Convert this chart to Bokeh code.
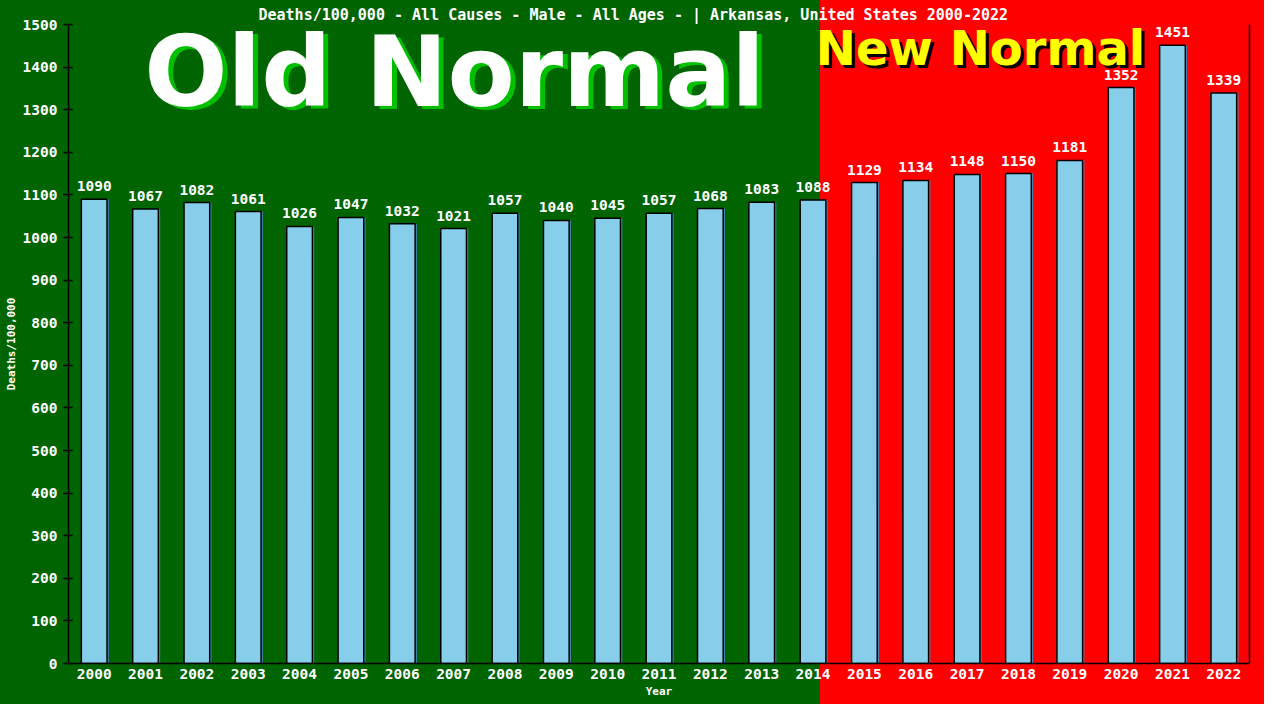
from bokeh.plotting import figure
from bokeh.models import (ColumnDataSource, Range1d, FactorRange, LinearAxis,
                          SingleIntervalTicker, FixedTicker, LabelSet)
from bokeh.core.properties import value
from bokeh.transform import dodge
from bokeh.embed import file_html
from bokeh.resources import INLINE

years = ["2000", "2001", "2002", "2003", "2004", "2005", "2006", "2007", "2008",
         "2009", "2010", "2011", "2012", "2013", "2014", "2015", "2016", "2017",
         "2018", "2019", "2020", "2021", "2022"]
deaths = [1090, 1067, 1082, 1061, 1026, 1047, 1032, 1021, 1057, 1040, 1045, 1057,
          1068, 1083, 1088, 1129, 1134, 1148, 1150, 1181, 1352, 1451, 1339]
labels = [str(v) for v in deaths]

title_text = "Deaths/100,000 - All Causes - Male - All Ages -  | Arkansas, United States 2000-2022"
y_label = "Deaths/100,000"
x_label = "Year"
old_text = "Old Normal"
new_text = "New Normal"

MONO = "DejaVu Sans Mono"
SANS = "DejaVu Sans"

p = figure(width=1264, height=704,
           x_range=FactorRange(factors=years), y_range=Range1d(0, 1500),
           output_backend="svg", toolbar_location=None,
           min_border_left=68, min_border_right=15, min_border_top=24,
           min_border_bottom=41,
           border_fill_color=None, background_fill_color=None,
           outline_line_color=None)
p.styles = {"background": "linear-gradient(to right, #006400 820px, #ff0000 820px)"}

p.title.text = title_text
p.title.align = "left"
p.title.text_color = "white"
p.title.text_font = MONO
p.title.text_font_size = "15px"
p.title.text_font_style = "bold"
p.title.standoff = 2
p.title.offset = 190

p.xgrid.visible = False
p.ygrid.visible = False

p.yaxis.ticker = SingleIntervalTicker(interval=100, num_minor_ticks=0)
for ax in p.yaxis:
    ax.major_tick_in = 4
    ax.major_tick_out = 5
    ax.minor_tick_in = 0
    ax.minor_tick_out = 0
    ax.axis_line_color = "black"
    ax.axis_line_width = 1.5
    ax.major_tick_line_color = "black"
    ax.major_tick_line_width = 1.5
    ax.major_label_text_color = "white"
    ax.major_label_text_font = MONO
    ax.major_label_text_font_size = "14.5px"
    ax.major_label_text_font_style = "bold"
    ax.major_label_standoff = 6
    ax.axis_label = y_label
    ax.axis_label_text_color = "white"
    ax.axis_label_text_font = MONO
    ax.axis_label_text_font_size = "11px"
    ax.axis_label_text_font_style = "bold"
    ax.axis_label_standoff = 2

for ax in p.xaxis:
    ax.major_tick_in = 0
    ax.major_tick_out = 0
    ax.minor_tick_in = 0
    ax.minor_tick_out = 0
    ax.axis_line_color = "black"
    ax.axis_line_width = 1.5
    ax.major_label_text_color = "white"
    ax.major_label_text_font = MONO
    ax.major_label_text_font_size = "14.5px"
    ax.major_label_text_font_style = "bold"
    ax.major_label_standoff = 5
    ax.axis_label = x_label
    ax.axis_label_text_color = "white"
    ax.axis_label_text_font = MONO
    ax.axis_label_text_font_size = "11px"
    ax.axis_label_text_font_style = "bold"
    ax.axis_label_standoff = 3

right = LinearAxis(ticker=FixedTicker(ticks=[]), major_label_text_font_size="0px",
                   axis_line_color="black", axis_line_width=1.5,
                   major_tick_in=0, major_tick_out=0, minor_tick_in=0, minor_tick_out=0,
                   major_label_standoff=0)
p.add_layout(right, "right")

src = ColumnDataSource(dict(year=years, deaths=deaths, label=labels))

p.vbar(x=dodge("year", 0.035, range=p.x_range), top="deaths", width=0.5,
       fill_color="#4682B4", line_color=None, source=src)
p.vbar(x="year", top="deaths", width=0.5, fill_color="#87CEEB",
       line_color="black", line_width=1.5, source=src)

p.add_layout(LabelSet(x="year", y="deaths", text="label", source=src,
                      text_align="center", text_baseline="alphabetic", y_offset=8,
                      text_color="white", text_font=value(MONO),
                      text_font_size=value("14.5px"), text_font_style="bold"))

# Big banner texts (shadow first, then face)
p.text(x=["2007"], y=[1382], text=[old_text], x_offset=6,
       text_align="center", text_baseline="alphabetic", text_color="#00C000",
       text_font=value(SANS), text_font_size="98px", text_font_style="bold")
p.text(x=["2007"], y=[1389], text=[old_text], x_offset=1,
       text_align="center", text_baseline="alphabetic", text_color="white",
       text_font=value(SANS), text_font_size="98px", text_font_style="bold")
p.text(x=["2017"], y=[1438], text=[new_text], x_offset=16.5,
       text_align="center", text_baseline="alphabetic", text_color="black",
       text_font=value(SANS), text_font_size="48px", text_font_style="bold")
p.text(x=["2017"], y=[1445], text=[new_text], x_offset=13.5,
       text_align="center", text_baseline="alphabetic", text_color="#FFFF00",
       text_font=value(SANS), text_font_size="48px", text_font_style="bold")

open("out.html", "w").write(file_html(p, INLINE))
